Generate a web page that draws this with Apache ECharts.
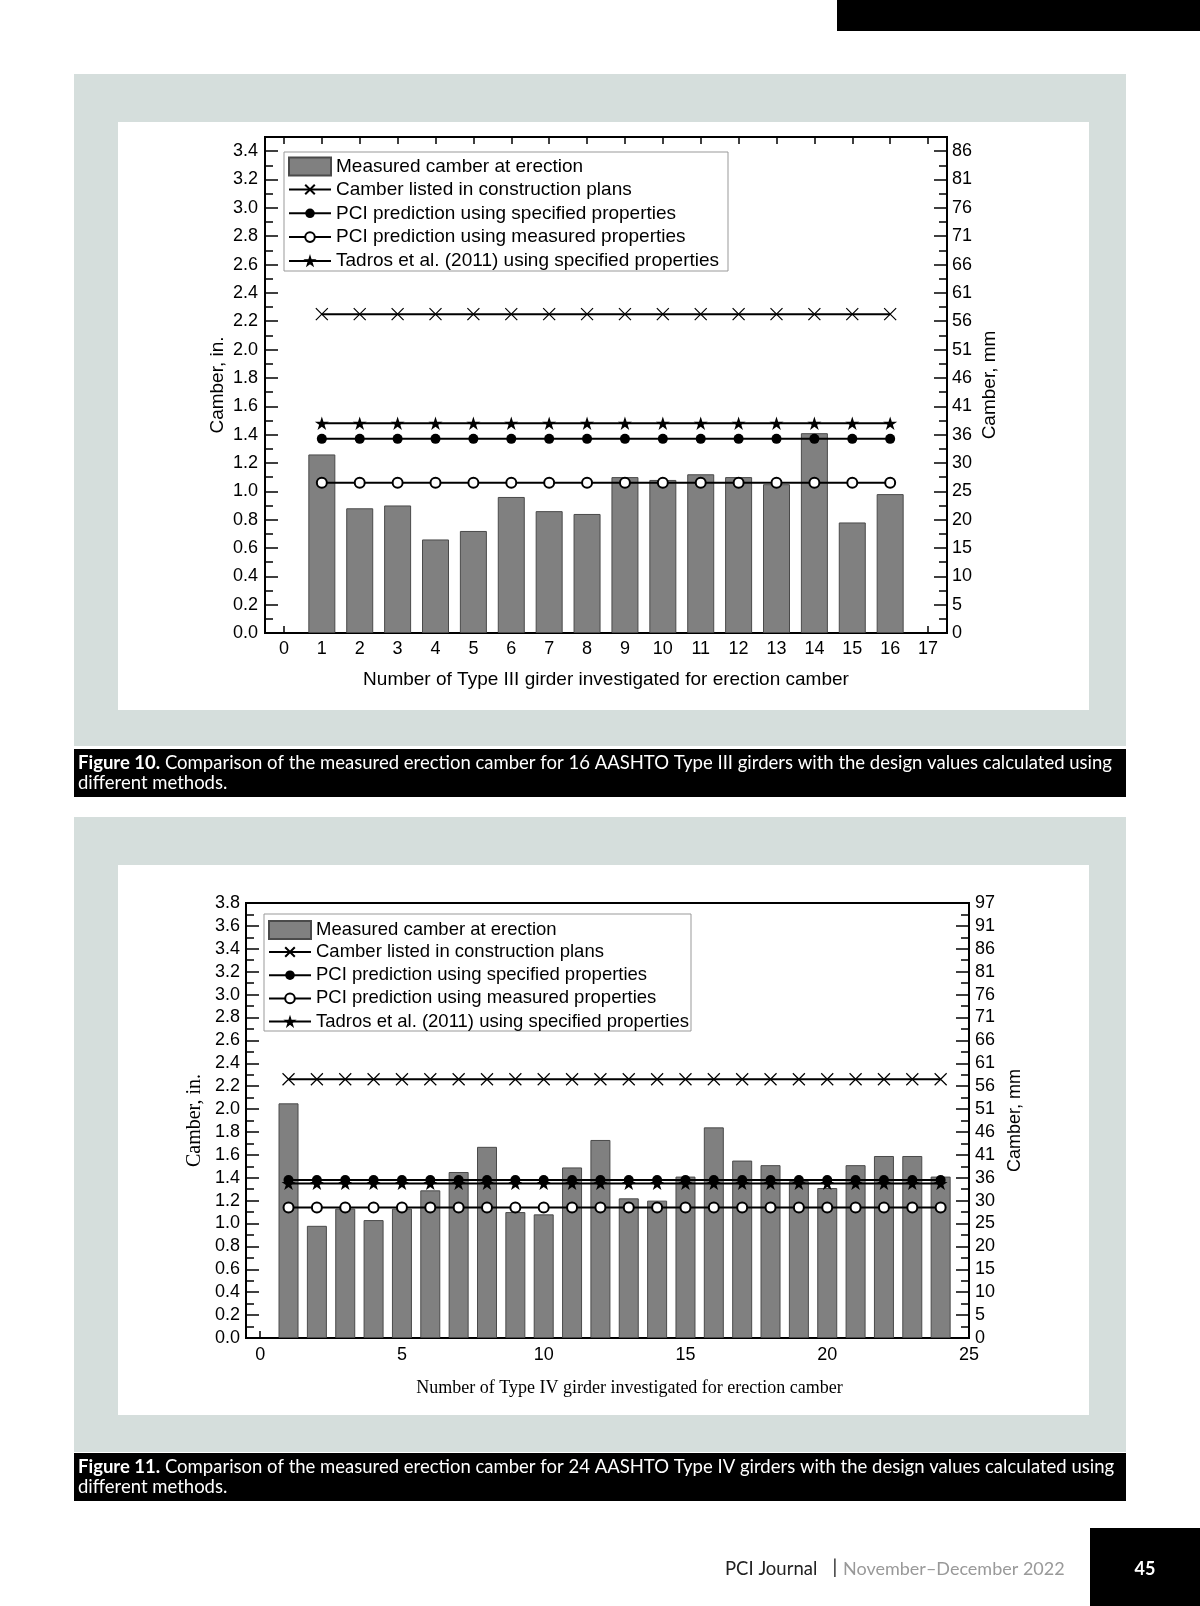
<!DOCTYPE html>
<html>
<head>
<meta charset="utf-8">
<script src="https://cdn.jsdelivr.net/npm/echarts@6/dist/echarts.min.js"></script>
<style>
html,body{margin:0;padding:0;background:#fff;}
#c{width:1200px;height:1606px;}
</style>
</head>
<body>
<div id="c"></div>
<script>
// ---------------- DATA ----------------
const seriesNames = [
  'Measured camber at erection',
  'Camber listed in construction plans',
  'PCI prediction using specified properties',
  'PCI prediction using measured properties',
  'Tadros et al. (2011) using specified properties'
];

// Figure 10 - Type III girders
const girdersIII = [1, 2, 3, 4, 5, 6, 7, 8, 9, 10, 11, 12, 13, 14, 15, 16];
const xTicksIII = [0, 1, 2, 3, 4, 5, 6, 7, 8, 9, 10, 11, 12, 13, 14, 15, 16, 17];
const measuredIII = [1.26, 0.88, 0.90, 0.66, 0.72, 0.96, 0.86, 0.84, 1.10, 1.08, 1.12, 1.10, 1.05, 1.41, 0.78, 0.98];
const plansIII = [2.25, 2.25, 2.25, 2.25, 2.25, 2.25, 2.25, 2.25, 2.25, 2.25, 2.25, 2.25, 2.25, 2.25, 2.25, 2.25];
const pciSpecIII = [1.37, 1.37, 1.37, 1.37, 1.37, 1.37, 1.37, 1.37, 1.37, 1.37, 1.37, 1.37, 1.37, 1.37, 1.37, 1.37];
const pciMeasIII = [1.06, 1.06, 1.06, 1.06, 1.06, 1.06, 1.06, 1.06, 1.06, 1.06, 1.06, 1.06, 1.06, 1.06, 1.06, 1.06];
const tadrosIII = [1.48, 1.48, 1.48, 1.48, 1.48, 1.48, 1.48, 1.48, 1.48, 1.48, 1.48, 1.48, 1.48, 1.48, 1.48, 1.48];
const yTicksIII = [0, 0.2, 0.4, 0.6, 0.8, 1.0, 1.2, 1.4, 1.6, 1.8, 2.0, 2.2, 2.4, 2.6, 2.8, 3.0, 3.2, 3.4];
const yMinorIII = [0.1, 0.3, 0.5, 0.7, 0.9, 1.1, 1.3, 1.5, 1.7, 1.9, 2.1, 2.3, 2.5, 2.7, 2.9, 3.1, 3.3];
const mmLabelsIII = ['0', '5', '10', '15', '20', '25', '30', '36', '41', '46', '51', '56', '61', '66', '71', '76', '81', '86'];

// Figure 11 - Type IV girders
const girdersIV = [1, 2, 3, 4, 5, 6, 7, 8, 9, 10, 11, 12, 13, 14, 15, 16, 17, 18, 19, 20, 21, 22, 23, 24];
const xTicksIV = [0, 5, 10, 15, 20, 25];
const measuredIV = [2.05, 0.98, 1.13, 1.03, 1.13, 1.29, 1.45, 1.67, 1.10, 1.08, 1.49, 1.73, 1.22, 1.20, 1.41, 1.84, 1.55, 1.51, 1.37, 1.31, 1.51, 1.59, 1.59, 1.41];
const plansIV = [2.26, 2.26, 2.26, 2.26, 2.26, 2.26, 2.26, 2.26, 2.26, 2.26, 2.26, 2.26, 2.26, 2.26, 2.26, 2.26, 2.26, 2.26, 2.26, 2.26, 2.26, 2.26, 2.26, 2.26];
const pciSpecIV = [1.38, 1.38, 1.38, 1.38, 1.38, 1.38, 1.38, 1.38, 1.38, 1.38, 1.38, 1.38, 1.38, 1.38, 1.38, 1.38, 1.38, 1.38, 1.38, 1.38, 1.38, 1.38, 1.38, 1.38];
const pciMeasIV = [1.14, 1.14, 1.14, 1.14, 1.14, 1.14, 1.14, 1.14, 1.14, 1.14, 1.14, 1.14, 1.14, 1.14, 1.14, 1.14, 1.14, 1.14, 1.14, 1.14, 1.14, 1.14, 1.14, 1.14];
const tadrosIV = [1.35, 1.35, 1.35, 1.35, 1.35, 1.35, 1.35, 1.35, 1.35, 1.35, 1.35, 1.35, 1.35, 1.35, 1.35, 1.35, 1.35, 1.35, 1.35, 1.35, 1.35, 1.35, 1.35, 1.35];
const yTicksIV = [0, 0.2, 0.4, 0.6, 0.8, 1.0, 1.2, 1.4, 1.6, 1.8, 2.0, 2.2, 2.4, 2.6, 2.8, 3.0, 3.2, 3.4, 3.6, 3.8];
const yMinorIV = [0.1, 0.3, 0.5, 0.7, 0.9, 1.1, 1.3, 1.5, 1.7, 1.9, 2.1, 2.3, 2.5, 2.7, 2.9, 3.1, 3.3, 3.5, 3.7];
const mmLabelsIV = ['0', '5', '10', '15', '20', '25', '30', '36', '41', '46', '51', '56', '61', '66', '71', '76', '81', '86', '91', '97'];

// ---------------- STYLE ----------------
const SANS = '"Liberation Sans", Arial, sans-serif';
const SERIF = '"Liberation Serif", "Times New Roman", serif';
const CAP = 'Lato, "Open Sans", sans-serif';
const crossPath = 'path://M0,0L10,10M10,0L0,10';
const starPath = 'path://M50,0L61.2,34.5L97.6,34.5L68.2,55.9L79.4,90.5L50,69.1L20.6,90.5L31.8,55.9L2.4,34.5L38.8,34.5Z';

function pairs(xs, ys) { return xs.map((x, i) => [x, ys[i]]); }

const grids = [], xAxes = [], yAxes = [], series = [], legends = [];

function tickStyle(len, show) {
  return { show: show !== false, inside: true, length: len, lineStyle: { color: '#000', width: 1.5 } };
}
const noLine = { show: false, onZero: false };

function addChart(c) {
  const g = grids.length;
  grids.push({ left: c.left, top: c.top, width: c.width, height: c.height, show: true,
    borderColor: '#000', borderWidth: 2, backgroundColor: 'transparent' });
  const xi = xAxes.length;
  xAxes.push({
    gridIndex: g, type: 'value', position: 'bottom', min: c.xMin, max: c.xMax,
    axisLine: noLine, splitLine: { show: false },
    axisTick: Object.assign(tickStyle(7), { customValues: c.xTicks }),
    axisLabel: { customValues: c.xTicks, margin: c.xLabelMargin, fontSize: 18, fontFamily: SANS, color: '#000' },
    name: c.xName, nameLocation: 'middle', nameGap: c.xNameGap, nameMoveOverlap: false,
    nameTextStyle: { fontSize: c.xNameSize, fontFamily: c.xNameFont, color: '#000', padding: c.xNamePad || 0 }
  });
  if (c.topTicks) {
    xAxes.push({
      gridIndex: g, type: 'value', position: 'top', min: c.xMin, max: c.xMax,
      axisLine: noLine, splitLine: { show: false }, axisLabel: { show: false },
      axisTick: Object.assign(tickStyle(7), { customValues: c.xTicks })
    });
  }
  const yi = yAxes.length;
  const fmtIn = v => v.toFixed(1);
  const fmtMm = v => c.mmLabels[Math.round(v / 0.2)];
  yAxes.push({
    gridIndex: g, type: 'value', position: 'left', min: 0, max: c.yMax,
    axisLine: noLine, splitLine: { show: false },
    axisTick: Object.assign(tickStyle(13), { customValues: c.yTicks }),
    axisLabel: { customValues: c.yTicks, formatter: fmtIn, margin: c.yLabelMargin, fontSize: 18, fontFamily: SANS, color: '#000' },
    name: 'Camber, in.', nameLocation: 'middle', nameGap: c.yNameGap, nameMoveOverlap: false,
    nameTextStyle: { fontSize: c.yNameSize, fontFamily: c.yNameFont, color: '#000' }
  });
  yAxes.push({
    gridIndex: g, type: 'value', position: 'left', min: 0, max: c.yMax,
    axisLine: noLine, splitLine: { show: false }, axisLabel: { show: false },
    axisTick: Object.assign(tickStyle(8), { customValues: c.yMinor })
  });
  yAxes.push({
    gridIndex: g, type: 'value', position: 'right', min: 0, max: c.yMax,
    axisLine: noLine, splitLine: { show: false },
    axisTick: Object.assign(tickStyle(13), { customValues: c.yTicks }),
    axisLabel: { customValues: c.yTicks, formatter: fmtMm, margin: c.rLabelMargin, fontSize: 18, fontFamily: SANS, color: '#000' },
    name: 'Camber, mm', nameLocation: 'middle', nameGap: c.rNameGap, nameMoveOverlap: false,
    nameTextStyle: { fontSize: c.rNameSize, fontFamily: SANS, color: '#000' }
  });
  yAxes.push({
    gridIndex: g, type: 'value', position: 'right', min: 0, max: c.yMax,
    axisLine: noLine, splitLine: { show: false }, axisLabel: { show: false },
    axisTick: Object.assign(tickStyle(8), { customValues: c.yMinor })
  });

  series.push({
    type: 'bar', name: seriesNames[0], xAxisIndex: xi, yAxisIndex: yi,
    data: pairs(c.girders, c.measured), barWidth: c.barWidth, silent: true,
    itemStyle: { color: '#808080', borderColor: '#4a4a4a', borderWidth: 1 }, z: 2
  });
  const lineBase = { type: 'line', xAxisIndex: xi, yAxisIndex: yi, silent: true, z: 3,
    lineStyle: { color: '#000', width: 2 }, symbolKeepAspect: true };
  series.push(Object.assign({}, lineBase, { name: seriesNames[1], data: pairs(c.girders, c.plans),
    symbol: crossPath, symbolSize: c.crossSize, itemStyle: { color: '#000', borderColor: '#000', borderWidth: 1.2 } }));
  series.push(Object.assign({}, lineBase, { name: seriesNames[2], data: pairs(c.girders, c.pciSpec),
    symbol: 'circle', symbolSize: 10, itemStyle: { color: '#000' } }));
  series.push(Object.assign({}, lineBase, { name: seriesNames[3], data: pairs(c.girders, c.pciMeas),
    symbol: 'emptyCircle', symbolSize: 10, itemStyle: { color: '#000', borderWidth: 1.5 } }));
  series.push(Object.assign({}, lineBase, { name: seriesNames[4], data: pairs(c.girders, c.tadros),
    symbol: starPath, symbolSize: 14, itemStyle: { color: '#000' } }));

  legends.push({
    data: [seriesNames[0]], orient: 'vertical', left: c.legLeft, top: c.legTop1, padding: 0,
    itemWidth: 42, itemHeight: 18, icon: 'rect', selectedMode: false,
    textStyle: { fontSize: c.legFont, fontFamily: SANS, color: '#000' }
  });
  legends.push({
    data: [
      { name: seriesNames[1] },
      { name: seriesNames[2] },
      { name: seriesNames[3] },
      { name: seriesNames[4], itemStyle: { borderColor: '#000', borderWidth: 1.2 } }
    ],
    orient: 'vertical', left: c.legLeft, top: c.legTop2, padding: 0,
    itemWidth: 42, itemHeight: 12, itemGap: c.legGap, selectedMode: false,
    textStyle: { fontSize: c.legFont, fontFamily: SANS, color: '#000' }
  });
}

addChart({
  left: 265, top: 137, width: 682, height: 496,
  xMin: -0.5, xMax: 17.5, xTicks: xTicksIII, topTicks: true, xLabelMargin: 7,
  xName: 'Number of Type III girder investigated for erection camber', xNameGap: 37.5, xNameSize: 19, xNameFont: SANS,
  yMax: 3.5, yTicks: yTicksIII, yMinor: yMinorIII, mmLabels: mmLabelsIII,
  yLabelMargin: 7, yNameGap: 37.5, yNameSize: 19, yNameFont: SANS,
  rLabelMargin: 5, rNameGap: 33.5, rNameSize: 19,
  girders: girdersIII, measured: measuredIII, plans: plansIII, pciSpec: pciSpecIII, pciMeas: pciMeasIII, tadros: tadrosIII,
  barWidth: 27, crossSize: 12,
  legLeft: 288, legTop1: 156.5, legTop2: 180, legGap: 4.8, legFont: 19
});

addChart({
  left: 246, top: 903, width: 723, height: 435,
  xMin: -0.5, xMax: 25, xTicks: xTicksIV, topTicks: false, xLabelMargin: 8,
  xName: 'Number of Type IV girder investigated for erection camber', xNameGap: 41, xNameSize: 18, xNameFont: SERIF, xNamePad: [0, 0, 0, 44],
  yMax: 3.8, yTicks: yTicksIV, yMinor: yMinorIV, mmLabels: mmLabelsIV,
  yLabelMargin: 6, yNameGap: 41.5, yNameSize: 20, yNameFont: SERIF,
  rLabelMargin: 6, rNameGap: 37.5, rNameSize: 18,
  girders: girdersIV, measured: measuredIV, plans: plansIV, pciSpec: pciSpecIV, pciMeas: pciMeasIV, tadros: tadrosIV,
  barWidth: 20, crossSize: 12,
  legLeft: 268, legTop1: 920, legTop2: 942.5, legGap: 4.2, legFont: 18.5
});

const captionRich = { b: { fontFamily: CAP, fontSize: 18.5, fontWeight: 'bold', fill: '#fff' } };

const graphicEls = [
  { type: 'rect', z: -10, shape: { x: 837, y: 0, width: 363, height: 31 }, style: { fill: '#000' } },
  { type: 'rect', z: -10, shape: { x: 74, y: 74, width: 1052, height: 672 }, style: { fill: '#d5dedc' } },
  { type: 'rect', z: -9, shape: { x: 118, y: 122, width: 971, height: 588 }, style: { fill: '#fff' } },
  { type: 'rect', z: -10, shape: { x: 74, y: 749, width: 1052, height: 48 }, style: { fill: '#000' } },
  { type: 'rect', z: -10, shape: { x: 74, y: 817, width: 1052, height: 635 }, style: { fill: '#d5dedc' } },
  { type: 'rect', z: -9, shape: { x: 118, y: 865, width: 971, height: 550 }, style: { fill: '#fff' } },
  { type: 'rect', z: -10, shape: { x: 74, y: 1453, width: 1052, height: 48 }, style: { fill: '#000' } },
  { type: 'rect', z: -8, shape: { x: 284, y: 152, width: 444, height: 119 }, style: { fill: '#fff', stroke: '#999', lineWidth: 1 } },
  { type: 'rect', z: -8, shape: { x: 264, y: 914, width: 427, height: 117 }, style: { fill: '#fff', stroke: '#999', lineWidth: 1 } },
  { type: 'text', x: 78, y: 753, style: {
      text: '{b|Figure 10.} Comparison of the measured erection camber for 16 AASHTO Type III girders with the design values calculated using\ndifferent methods.',
      rich: captionRich, fill: '#fff', fontFamily: CAP, fontSize: 18.5, lineHeight: 20, verticalAlign: 'top', align: 'left' } },
  { type: 'text', x: 78, y: 1457, style: {
      text: '{b|Figure 11.} Comparison of the measured erection camber for 24 AASHTO Type IV girders with the design values calculated using\ndifferent methods.',
      rich: captionRich, fill: '#fff', fontFamily: CAP, fontSize: 18.5, lineHeight: 20, verticalAlign: 'top', align: 'left' } },
  { type: 'text', x: 725, y: 1569, style: { text: 'PCI Journal', fill: '#222', fontFamily: CAP, fontSize: 18.5, verticalAlign: 'middle', align: 'left' } },
  { type: 'text', x: 835, y: 1568, style: { text: '|', fill: '#222', fontFamily: CAP, fontSize: 19, verticalAlign: 'middle', align: 'center' } },
  { type: 'text', x: 843, y: 1569, style: { text: 'November\u2013December 2022', fill: '#999', fontFamily: CAP, fontSize: 18, verticalAlign: 'middle', align: 'left' } },
  { type: 'rect', z: -10, shape: { x: 1090, y: 1528, width: 110, height: 78 }, style: { fill: '#000' } },
  { type: 'text', x: 1145, y: 1569, style: { text: '45', fill: '#fff', fontFamily: CAP, fontSize: 18, fontWeight: 'bold', verticalAlign: 'middle', align: 'center' } }
];

const chart = echarts.init(document.getElementById('c'), null, { renderer: 'canvas' });
chart.setOption({
  backgroundColor: '#fff',
  animation: false,
  grid: grids,
  xAxis: xAxes,
  yAxis: yAxes,
  legend: legends,
  series: series,
  graphic: { elements: graphicEls }
});
</script>
</body>
</html>
